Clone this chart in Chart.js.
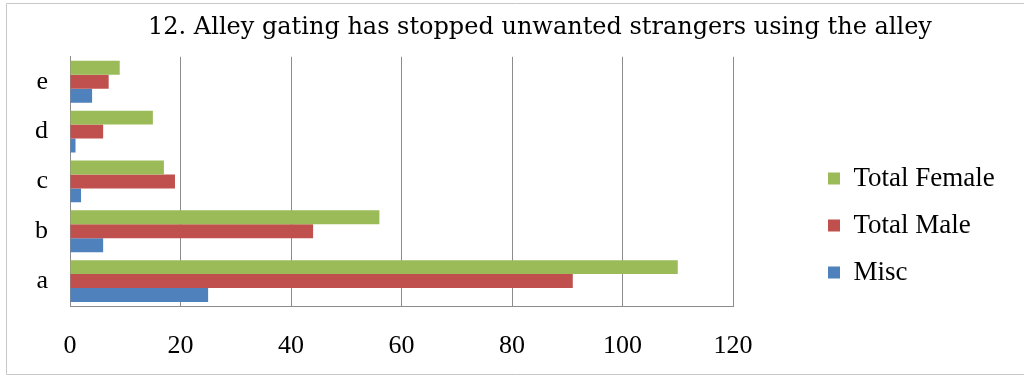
<!DOCTYPE html>
<html>
<head>
<meta charset="utf-8">
<title>Alley gating survey</title>
<script src="https://cdn.jsdelivr.net/npm/chart.js@4.4.1/dist/chart.umd.min.js"></script>
<style>
  html, body { margin: 0; padding: 0; background: #fff; }
  #wrap { position: relative; width: 1024px; height: 376px; }
</style>
</head>
<body>
<div id="wrap"><canvas id="gatingChart"></canvas></div>
<script>
var categories = ['a', 'b', 'c', 'd', 'e'];
var totalFemale = [110, 56, 17, 15, 9];
var totalMale = [91, 44, 19, 6, 7];
var misc = [25, 6, 2, 1, 4];
var xTicks = [0, 20, 40, 60, 80, 100, 120];

var serif = "'Liberation Serif', 'DejaVu Serif', serif";
var wideSerif = "'DejaVu Serif', 'Liberation Serif', serif";

// category axis runs top to bottom, so feed it e..a to get a at the bottom
function rev(arr) { return arr.slice().reverse(); }

// empty layout box that only takes room on one side of the plot;
// display:false keeps it out of the max-width share of the real boxes
function spacer(chart, position, weight, size) {
  return {
    position: position, weight: weight, fullSize: false,
    options: { display: false },
    top: 0, left: 0, right: 0, bottom: 0, width: 0, height: 0,
    isHorizontal: function() { return false; },
    update: function(maxWidth, maxHeight) {
      this.width = typeof size === 'function' ? size(chart) : size;
      this.height = maxHeight;
    },
    draw: function() {}
  };
}

// right side: gap, legend, rest of the width (title is centred over 0..1080)
var gaps = {
  id: 'gaps',
  beforeInit: function(chart) {
    Chart.layouts.addBox(chart, spacer(chart, 'right', 0, 75));
    Chart.layouts.addBox(chart, spacer(chart, 'right', 3000, function(c) {
      return Math.max(0, 272 - (c.legend ? c.legend.width : 0));
    }));
  }
};

// thin frame round the chart area
var frame = {
  id: 'frame',
  beforeDraw: function(chart) {
    var ctx = chart.ctx;
    ctx.save();
    ctx.strokeStyle = '#c8c8c8';
    ctx.lineWidth = 1;
    ctx.beginPath();
    ctx.moveTo(chart.width, 3.5);
    ctx.lineTo(6.5, 3.5);
    ctx.lineTo(6.5, chart.height - 1.5);
    ctx.lineTo(chart.width, chart.height - 1.5);
    ctx.stroke();
    ctx.restore();
  }
};

var ctx = document.getElementById('gatingChart').getContext('2d');
var gatingChart = new Chart(ctx, {
  type: 'bar',
  data: {
    labels: rev(categories),
    datasets: [{
      label: 'Total Female',
      data: rev(totalFemale),
      backgroundColor: '#9BBB59'
    }, {
      label: 'Total Male',
      data: rev(totalMale),
      backgroundColor: '#C0504D'
    }, {
      label: 'Misc',
      data: rev(misc),
      backgroundColor: '#4F81BD'
    }]
  },
  plugins: [gaps, frame],
  options: {
    indexAxis: 'y',
    responsive: true,
    maintainAspectRatio: false,
    animation: false,
    layout: { padding: { left: 0, right: -56, top: 0, bottom: 14 } },
    datasets: {
      bar: { barPercentage: 1, categoryPercentage: 0.84, borderWidth: 0 }
    },
    scales: {
      x: {
        min: 0,
        max: 120,
        afterBuildTicks: function(scale) {
          scale.ticks = xTicks.map(function(v) { return { value: v }; });
        },
        afterFit: function(scale) { scale.height = 56; },
        grid: { color: '#8c8c8c', lineWidth: 1, drawTicks: false },
        border: { display: true, color: '#8c8c8c' },
        ticks: {
          padding: 25,
          color: '#000',
          maxRotation: 0,
          font: { family: serif, size: 26 }
        }
      },
      y: {
        afterFit: function(scale) { scale.width = 70; },
        grid: { display: false },
        border: { display: true, color: '#8c8c8c' },
        ticks: {
          padding: 14,
          color: '#000',
          font: { family: serif, size: 26 }
        }
      }
    },
    plugins: {
      title: {
        display: true,
        text: '12. Alley gating has stopped unwanted strangers using the alley',
        color: '#000',
        font: { family: wideSerif, size: 24, weight: 'normal' },
        padding: { top: 13, bottom: 15 }
      },
      legend: {
        position: 'right',
        align: 'end',
        fullSize: false,
        labels: {
          boxWidth: 12,
          boxHeight: 12,
          padding: 20,
          color: '#000',
          font: { family: serif, size: 27 }
        }
      },
      tooltip: { enabled: false }
    }
  }
});
</script>
</body>
</html>
